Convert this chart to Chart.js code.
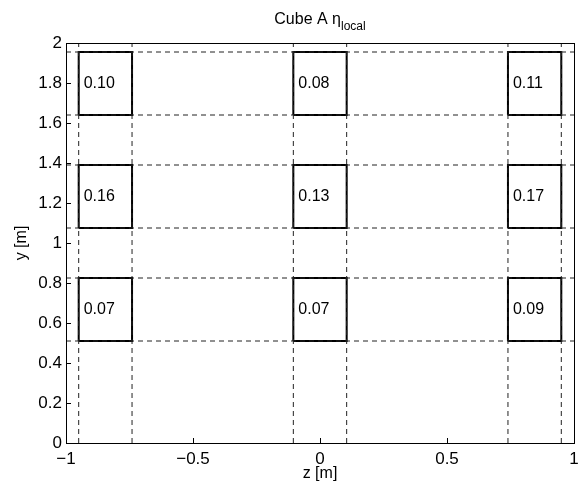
<!DOCTYPE html>
<html><head><meta charset="utf-8">
<script src="https://cdn.jsdelivr.net/npm/chart.js@4/dist/chart.umd.min.js"></script>
<style>html,body{margin:0;padding:0;background:#fff}#wrap{width:582px;height:490px}</style>
</head><body><div id="wrap"><canvas id="c" width="582" height="490"></canvas></div>
<script>
// Data
const colZ = [[-0.95, -0.74], [-0.105, 0.105], [0.74, 0.95]];
const rowY = [[1.64, 1.955], [1.075, 1.39], [0.51, 0.825]];
const values = [
  [0.10, 0.08, 0.11],
  [0.16, 0.13, 0.17],
  [0.07, 0.07, 0.09]
];
const xTicks = [-1, -0.5, 0, 0.5, 1];
const yTicks = [0, 0.2, 0.4, 0.6, 0.8, 1, 1.2, 1.4, 1.6, 1.8, 2];
const xRange = [-1, 1];
const yRange = [0, 2];

const FONT = '"Liberation Sans", Arial, Helvetica, sans-serif';
const datasets = [];
const dashColor = '#222';
// vertical dashed lines
colZ.flat().forEach(z => datasets.push({
  data: [{x: z, y: yRange[0]}, {x: z, y: yRange[1]}],
  showLine: true, pointRadius: 0, borderColor: dashColor, borderWidth: 1, borderDash: [5, 4]
}));
// horizontal dashed lines
rowY.flat().forEach(y => datasets.push({
  data: [{x: xRange[0], y: y}, {x: xRange[1], y: y}],
  showLine: true, pointRadius: 0, borderColor: dashColor, borderWidth: 1, borderDash: [5, 4]
}));
// boxes
rowY.forEach((r, i) => colZ.forEach((c, j) => datasets.push({
  data: [{x: c[0], y: r[0]}, {x: c[1], y: r[0]}, {x: c[1], y: r[1]}, {x: c[0], y: r[1]}, {x: c[0], y: r[0]}],
  showLine: true, pointRadius: 0, borderColor: '#000', borderWidth: 2, tension: 0,
  borderJoinStyle: 'miter', label: values[i][j].toFixed(2)
})));

const decor = {
  id: 'decor',
  afterDatasetsDraw(chart) {
    const ctx = chart.ctx, a = chart.chartArea, xs = chart.scales.x, ys = chart.scales.y;
    ctx.save();
    // box labels
    ctx.fillStyle = '#000';
    ctx.font = '16px ' + FONT;
    ctx.textBaseline = 'middle';
    ctx.textAlign = 'left';
    rowY.forEach((r, i) => colZ.forEach((c, j) => {
      const px = xs.getPixelForValue(c[0]) + 5;
      const py = ys.getPixelForValue((r[0] + r[1]) / 2);
      ctx.fillText(values[i][j].toFixed(2), px, py);
    }));
    // frame
    ctx.strokeStyle = '#000';
    ctx.lineWidth = 1;
    ctx.strokeRect(Math.round(a.left) + 0.5, Math.round(a.top) + 0.5, Math.round(a.right - a.left), Math.round(a.bottom - a.top));
    // inward ticks
    ctx.beginPath();
    xTicks.forEach(v => {
      const x = Math.round(xs.getPixelForValue(v)) + 0.5;
      ctx.moveTo(x, a.bottom); ctx.lineTo(x, a.bottom - 5);
    });
    yTicks.forEach(v => {
      const y = Math.round(ys.getPixelForValue(v)) + 0.5;
      ctx.moveTo(a.left, y); ctx.lineTo(a.left + 5, y);
    });
    ctx.stroke();
    // title
    const cx = (a.left + a.right) / 2;
    ctx.textBaseline = 'alphabetic';
    const main = 'Cube A \u03b7';
    ctx.font = '12px ' + FONT;
    const subW = ctx.measureText('local').width;
    ctx.font = '16px ' + FONT;
    const mainW = ctx.measureText(main).width;
    const start = cx - (mainW + subW) / 2;
    ctx.textAlign = 'left';
    ctx.fillText(main, start, 24);
    ctx.font = '12px ' + FONT;
    ctx.fillText('local', start + mainW, 30);
    // axis titles
    ctx.font = '16px ' + FONT;
    ctx.textAlign = 'center';
    ctx.textBaseline = 'middle';
    ctx.fillText('z [m]', cx, 474);
    ctx.translate(22, (a.top + a.bottom) / 2);
    ctx.rotate(-Math.PI / 2);
    ctx.fillText('y [m]', 0, 0);
    ctx.restore();
  }
};

new Chart(document.getElementById('c'), {
  type: 'scatter',
  data: { datasets },
  options: {
    responsive: false, animation: false, devicePixelRatio: 1,
    layout: { padding: { left: 0, top: 43, right: 8, bottom: 0 } },
    plugins: { legend: { display: false }, tooltip: { enabled: false }, title: { display: false } },
    scales: {
      x: {
        type: 'linear', min: xRange[0], max: xRange[1],
        afterBuildTicks: s => { s.ticks = xTicks.map(v => ({ value: v })); },
        afterFit: s => { s.height = 47; s.paddingLeft = 0; s.paddingRight = 0; },
        grid: { display: false, drawTicks: false }, border: { display: false },
        ticks: { color: '#000', font: { family: FONT, size: 17 }, padding: 6, maxRotation: 0,
          callback: v => String(v).replace('-', '\u2212') }
      },
      y: {
        type: 'linear', min: yRange[0], max: yRange[1],
        afterBuildTicks: s => { s.ticks = yTicks.map(v => ({ value: v })); },
        afterFit: s => { s.width = 66; s.paddingTop = 0; s.paddingBottom = 0; },
        grid: { display: false, drawTicks: false }, border: { display: false },
        ticks: { color: '#000', font: { family: FONT, size: 17 }, padding: 4,
          callback: v => String(v) }
      }
    }
  },
  plugins: [decor]
});
</script></body></html>
